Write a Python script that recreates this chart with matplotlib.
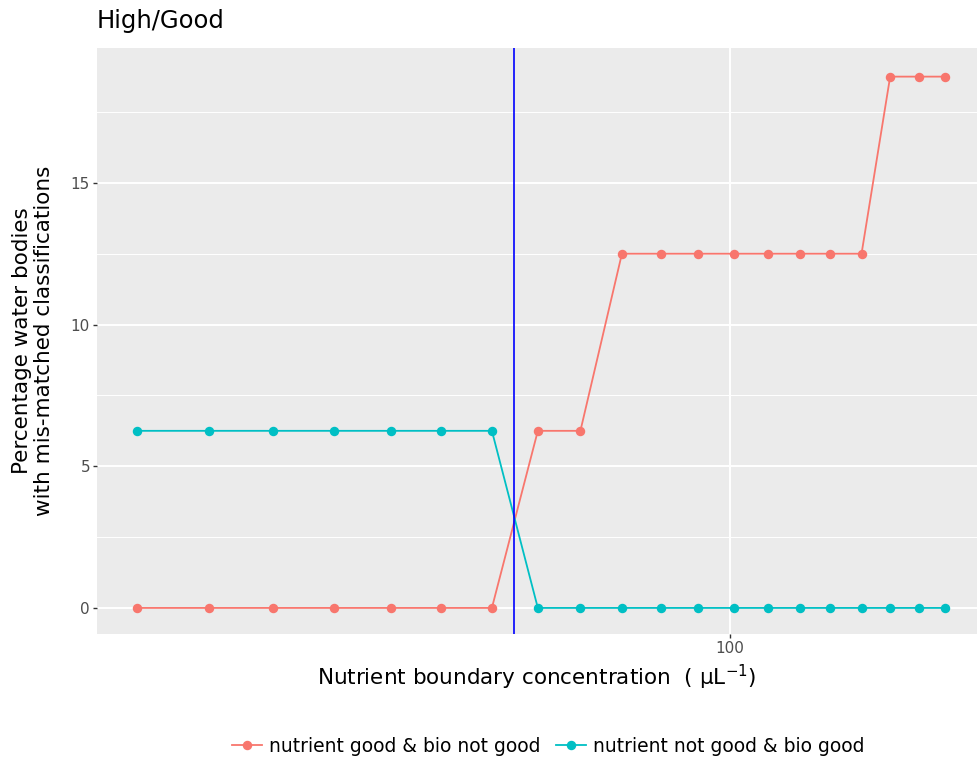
import matplotlib
matplotlib.use("Agg")
import matplotlib.pyplot as plt
from matplotlib.lines import Line2D
from matplotlib.ticker import FixedLocator, NullFormatter

plt.rcParams['font.family'] = ['DejaVu Sans']

# Nutrient boundary concentrations tested
boundary = [49.8, 54.2, 58.4, 62.8, 67.1, 71.2, 75.6, 79.8, 83.9, 88.1,
            92.2, 96.4, 100.5, 104.6, 108.6, 112.6, 116.8, 120.8, 124.9, 128.9]
# Percentage of water bodies in each mismatch class
nut_good_bio_not = [0, 0, 0, 0, 0, 0, 0, 6.25, 6.25, 12.5,
                    12.5, 12.5, 12.5, 12.5, 12.5, 12.5, 12.5, 18.75, 18.75, 18.75]
nut_not_bio_good = [6.25, 6.25, 6.25, 6.25, 6.25, 6.25, 6.25, 0, 0, 0,
                    0, 0, 0, 0, 0, 0, 0, 0, 0, 0]
chosen_boundary = 77.6
series_labels = ["nutrient good & bio not good", "nutrient not good & bio good"]
series_colors = ["#F8766D", "#00BFC4"]
x_ticks = [100]
y_ticks = [0, 5, 10, 15]
y_minor = [2.5, 7.5, 12.5, 17.5]

fig = plt.figure(figsize=(9.77, 7.63), dpi=100)
ax = fig.add_axes([97/977, 1 - 634/763, 1 - 97/977, (634 - 48)/763])
ax.set_facecolor("#EBEBEB")
for s in ax.spines.values():
    s.set_visible(False)

ax.set_xscale("log")
ax.set_xlim(47.5, 133.8)
ax.set_ylim(-0.92, 19.76)

ax.xaxis.set_major_locator(FixedLocator(x_ticks))
ax.xaxis.set_minor_locator(FixedLocator([]))
ax.xaxis.set_minor_formatter(NullFormatter())
ax.set_xticklabels([str(v) for v in x_ticks])
ax.set_yticks(y_ticks)
ax.set_yticks(y_minor, minor=True)
ax.grid(True, which="major", color="white", lw=1.4)
ax.grid(True, which="minor", axis="y", color="white", lw=0.7)
ax.set_axisbelow(True)
ax.tick_params(axis="both", which="major", length=3, width=1, color="#333333",
               labelcolor="#4D4D4D", labelsize=11, pad=2)
ax.tick_params(axis="y", which="minor", length=0)

for vals, lab, col in zip([nut_good_bio_not, nut_not_bio_good], series_labels, series_colors):
    ax.plot(boundary, vals, color=col, lw=1.3, marker="o", ms=5.8, label=lab, zorder=3)

ax.axvline(chosen_boundary, color="#0000FF", lw=1.2, zorder=4)

ax.set_xlabel("Nutrient boundary concentration  ( \u00b5L$^{-1}$)", fontsize=15.5, labelpad=5)
fig.text(33/977, 1 - 341/763, "Percentage water bodies\nwith mis-matched classifications",
         fontsize=15.5, rotation=90, ha="center", va="center", multialignment="center",
         linespacing=1.1)
fig.text(97/977, 1 - 21/763, "High/Good", fontsize=17.5, va="center", ha="left")

handles = [Line2D([], [], color=c, lw=1.3, marker="o", ms=5.8) for c in series_colors]
fig.legend(handles, series_labels, loc="center", bbox_to_anchor=(548/977, 1 - 746/763),
           ncol=2, frameon=False, fontsize=13.5, handlelength=1.6, handletextpad=0.4,
           columnspacing=0.8)

fig.savefig("out.png", dpi=100)
